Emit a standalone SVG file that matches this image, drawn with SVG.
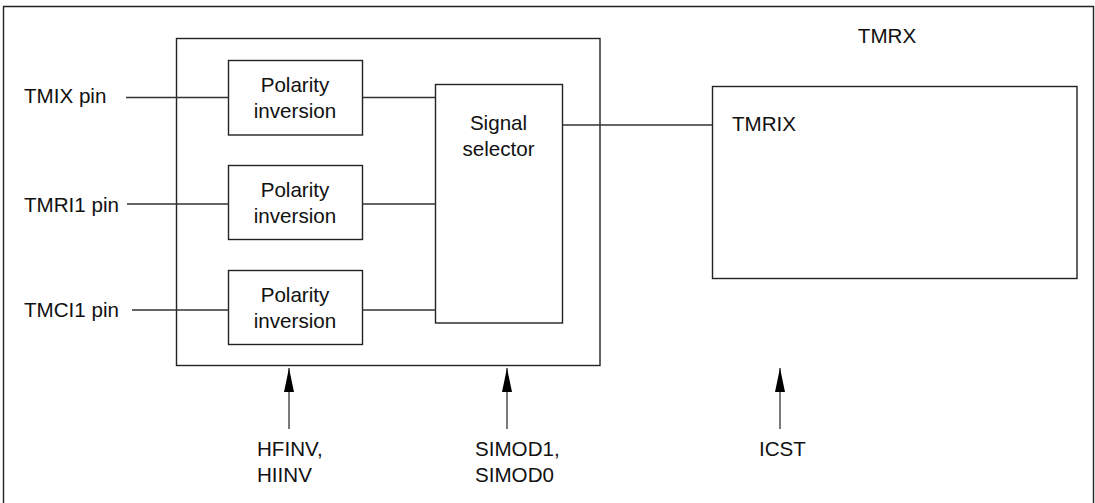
<svg xmlns="http://www.w3.org/2000/svg" width="1095" height="503" viewBox="0 0 1095 503">
<defs>
<style>
.box{fill:none;stroke:#222;stroke-width:1.4}
.ln{fill:none;stroke:#333;stroke-width:1.3}
text{font-family:"Liberation Sans",Arial,sans-serif;font-size:20.6px;fill:#111}
.c{text-anchor:middle}
</style>
<marker id="ah" markerWidth="24" markerHeight="10" refX="24" refY="5" orient="auto" markerUnits="userSpaceOnUse" viewBox="0 0 24 10">
<path d="M0,0 L24,5 L0,10 Z" fill="#000"/>
</marker>
</defs>
<rect width="1095" height="503" fill="#fff"/>
<g id="frame"><path class="box" d="M3.5,503 V6.5 H1093.5 V503" stroke-width="1.6"/></g>
<g id="tmrx-label"><text class="c" x="887" y="43">TMRX</text></g>
<g id="selector-block"><rect class="box" x="176.5" y="38.5" width="423.5" height="327"/></g>
<g id="pol1"><rect class="box" x="228.5" y="60.5" width="134" height="74.5"/><text class="c" x="295" y="92">Polarity</text><text class="c" x="295" y="118">inversion</text></g>
<g id="pol2"><rect class="box" x="228.5" y="165.5" width="134" height="74"/><text class="c" x="295" y="197">Polarity</text><text class="c" x="295" y="223">inversion</text></g>
<g id="pol3"><rect class="box" x="228.5" y="270.5" width="134" height="74"/><text class="c" x="295" y="302">Polarity</text><text class="c" x="295" y="328">inversion</text></g>
<g id="sigsel"><rect class="box" x="435.5" y="84.5" width="127" height="238.5"/><text class="c" x="498.5" y="130">Signal</text><text class="c" x="498.5" y="156">selector</text></g>
<g id="tmrix"><rect class="box" x="712.5" y="86.5" width="364.5" height="192"/><text x="732" y="131">TMRIX</text></g>
<g id="pin-labels"><text x="24" y="103">TMIX pin</text><text x="24" y="211.5">TMRI1 pin</text><text x="24" y="316.5">TMCI1 pin</text></g>
<g id="ctrl-labels"><text x="257" y="456">HFINV,</text><text x="257" y="482">HIINV</text><text x="475" y="456">SIMOD1,</text><text x="475" y="482">SIMOD0</text><text x="759" y="456">ICST</text></g>
<g id="connectors">
<line class="ln" x1="126" y1="97.5" x2="228.5" y2="97.5"/>
<line class="ln" x1="127" y1="204" x2="228.5" y2="204"/>
<line class="ln" x1="132" y1="310" x2="228.5" y2="310"/>
<line class="ln" x1="362.5" y1="97.5" x2="435.5" y2="97.5"/>
<line class="ln" x1="362.5" y1="204" x2="435.5" y2="204"/>
<line class="ln" x1="362.5" y1="310" x2="435.5" y2="310"/>
<line class="ln" x1="562.5" y1="125" x2="712.5" y2="125"/>
<line class="ln" x1="289" y1="429" x2="289" y2="368" marker-end="url(#ah)"/>
<line class="ln" x1="507" y1="429" x2="507" y2="368" marker-end="url(#ah)"/>
<line class="ln" x1="780" y1="429" x2="780" y2="368" marker-end="url(#ah)"/>
</g>
</svg>
